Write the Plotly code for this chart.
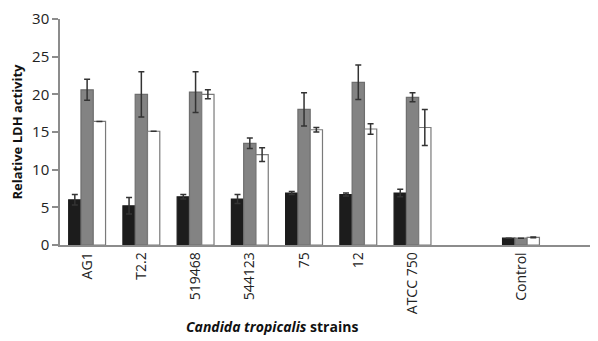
import plotly.graph_objects as go

strains = ["AG1", "T2.2", "519468", "544123", "75", "12", "ATCC 750", "Control"]
positions = [0, 1, 2, 3, 4, 5, 6, 8]

black_vals = [6.0, 5.2, 6.4, 6.1, 6.9, 6.7, 6.9, 0.9]
black_err = [0.7, 1.1, 0.3, 0.6, 0.2, 0.2, 0.5, 0.0]
gray_vals = [20.6, 20.0, 20.3, 13.5, 18.0, 21.6, 19.6, 0.9]
gray_err = [1.4, 3.0, 2.7, 0.7, 2.2, 2.3, 0.6, 0.0]
white_vals = [16.4, 15.1, 20.0, 12.0, 15.3, 15.4, 15.6, 1.0]
white_err = [0.0, 0.0, 0.6, 0.9, 0.3, 0.7, 2.4, 0.05]

yticks = [0, 5, 10, 15, 20, 25, 30]

fig = go.Figure()

def add(vals, errs, fill, line):
    fig.add_trace(go.Bar(
        x=positions, y=vals,
        marker=dict(color=fill, line=dict(color=line, width=1.2)),
        error_y=dict(type="data", array=errs, visible=True,
                     color="#333333", thickness=1.5, width=3),
        showlegend=False,
    ))

add(black_vals, black_err, "#1c1c1c", "#1c1c1c")
add(gray_vals, gray_err, "#838383", "#6e6e6e")
add(white_vals, white_err, "#ffffff", "#7a7a7a")

# page body has an 8px margin, so the figure is offset by 8px
fig.update_layout(
    width=590, height=333,
    margin=dict(l=52, r=0, t=11, b=96, autoexpand=False),
    paper_bgcolor="white", plot_bgcolor="white",
    barmode="group", bargap=0.32, bargroupgap=0,
    font=dict(family="Open Sans", size=14, color="#222222"),
)
fig.update_xaxes(
    range=[-0.5, 9.42],
    tickvals=positions, ticktext=strains,
    tickangle=-90, ticks="", showgrid=False,
    showline=True, linecolor="#8c8c8c", linewidth=1.5,
    tickfont=dict(size=14, color="#222222"),
    zeroline=False, automargin=False,
)
fig.update_yaxes(
    range=[0, 30], tickvals=yticks,
    ticks="outside", ticklen=6, tickcolor="#8c8c8c", tickwidth=1.5,
    showgrid=False, showline=True, linecolor="#8c8c8c", linewidth=1.5,
    zeroline=False, automargin=False, ticklabeloverflow="allow",
    tickfont=dict(size=15, color="#222222"),
    title=dict(text="<b>Relative LDH activity</b>", font=dict(size=13, color="#111111"), standoff=8),
)
fig.add_annotation(
    text="<b><i>Candida tropicalis</i> strains</b>",
    xref="paper", yref="paper", x=0.394, y=-0.36,
    showarrow=False, font=dict(size=14, color="#111111"),
    xanchor="center", yanchor="middle",
)

fig.write_html("out.html")
